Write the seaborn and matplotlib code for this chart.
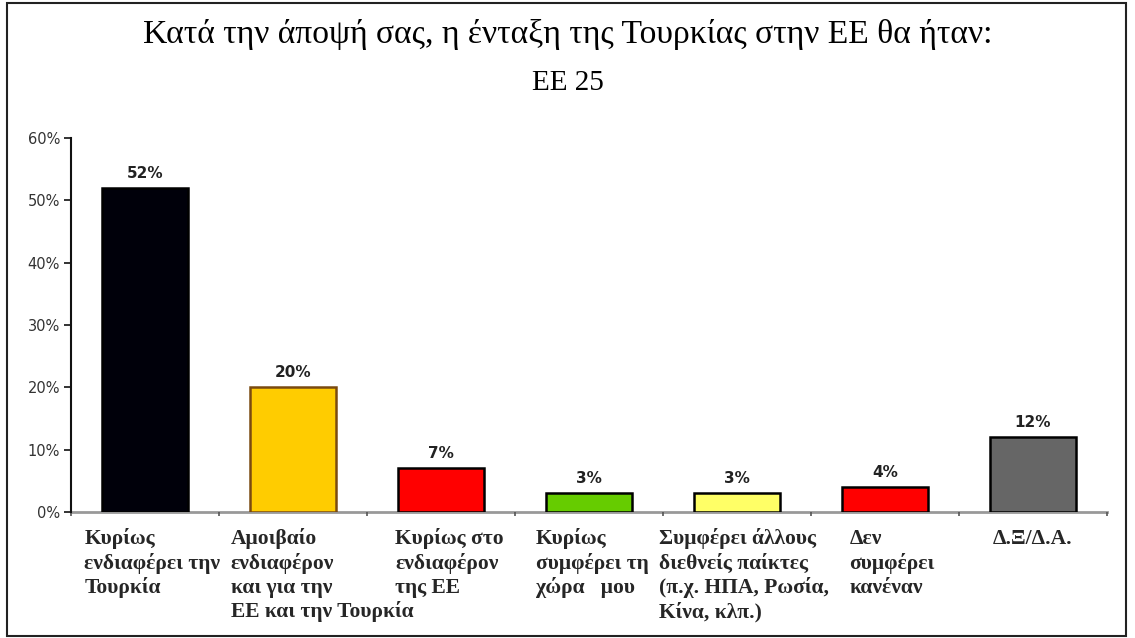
import matplotlib
matplotlib.use("Agg")
import matplotlib.pyplot as plt
import matplotlib.transforms as mtransforms
from matplotlib.patches import Rectangle
import seaborn as sns
import pandas as pd

categories = [
    "Κυρίως\nενδιαφέρει την\nΤουρκία",
    "Αμοιβαίο\nενδιαφέρον\nκαι για την\nΕΕ και την Τουρκία",
    "Κυρίως στο\nενδιαφέρον\nτης ΕΕ",
    "Κυρίως\nσυμφέρει τη\nχώρα   μου",
    "Συμφέρει άλλους\nδιεθνείς παίκτες\n(π.χ. ΗΠΑ, Ρωσία,\nΚίνα, κλπ.)",
    "Δεν\nσυμφέρει\nκανέναν",
    "Δ.Ξ/Δ.Α.",
]
values = [52, 20, 7, 3, 3, 4, 12]
value_labels = ["52%", "20%", "7%", "3%", "3%", "4%", "12%"]
ytick_values = [0, 10, 20, 30, 40, 50, 60]
ytick_labels = ["0%", "10%", "20%", "30%", "40%", "50%", "60%"]
title_line1 = "Κατά την άποψή σας, η ένταξη της Τουρκίας στην ΕΕ θα ήταν:"
title_line2 = "ΕΕ 25"

bar_colors = ["#00000A", "#FFCC00", "#FF0000", "#66CC00", "#FFFF66", "#FF0000", "#666666"]
edge_colors = ["#000000", "#7A4A10", "#000000", "#000000", "#000000", "#000000", "#000000"]
# label horizontal offsets (in category units, from the category's left boundary)
label_offsets = [0.09, 0.08, 0.19, 0.14, -0.03, 0.26, None]

sns.set_theme(style="white")
plt.rcParams["font.family"] = ["DejaVu Sans"]

fig = plt.figure(figsize=(11.35, 6.38), dpi=100)
ax = fig.add_axes([71 / 1135, 1 - 512 / 638, (1107 - 71) / 1135, (512 - 138) / 638])

df = pd.DataFrame({"cat": categories, "val": values})
sns.barplot(data=df, x="cat", y="val", hue="cat", palette=bar_colors,
            legend=False, width=0.58, ax=ax, saturation=1)

for patch, ec in zip(ax.patches, edge_colors):
    patch.set_edgecolor(ec)
    patch.set_linewidth(1.8)

ax.set_xlim(-0.5, len(categories) - 0.5)
ax.set_ylim(0, 60)
ax.set_yticks(ytick_values)
ax.set_yticklabels(ytick_labels, fontsize=10.5, color="#333333")
ax.set_xlabel("")
ax.set_ylabel("")

for sp in ["top", "right"]:
    ax.spines[sp].set_visible(False)
ax.spines["left"].set_color("#111111")
ax.spines["left"].set_linewidth(1.5)
ax.spines["bottom"].set_color("#999999")
ax.spines["bottom"].set_linewidth(2)
ax.spines["bottom"].set_zorder(0.5)

ax.tick_params(axis="y", which="major", left=True, length=5, width=1.2, color="#111111", pad=3)
# category boundary ticks on x axis
ax.set_xticks([i - 0.5 for i in range(len(categories) + 1)])
ax.set_xticklabels([])
ax.tick_params(axis="x", which="major", bottom=True, length=3, width=1.2, color="#555555")

# value labels
for i, (v, t) in enumerate(zip(values, value_labels)):
    ax.annotate(t, (i, v), xytext=(0, 5), textcoords="offset points",
                ha="center", va="bottom", fontsize=11, fontweight="bold", color="#222222")

# category labels, one text per line
trans = mtransforms.blended_transform_factory(ax.transData, fig.transFigure)
label_top = 1 - 544 / 638     # baseline of first line
line_step = 24.5 / 638
for i, (lab, off) in enumerate(zip(categories, label_offsets)):
    for k, line in enumerate(lab.split("\n")):
        y = label_top - k * line_step
        if off is None:
            ax.text(i, y, line, transform=trans, ha="center", va="baseline",
                    fontsize=15.5, fontweight="bold", family="Liberation Serif",
                    clip_on=False)
        else:
            ax.text(i - 0.5 + off, y, line, transform=trans, ha="left", va="baseline",
                    fontsize=15.5, fontweight="bold", family="Liberation Serif",
                    clip_on=False)

# titles
fig.text(0.5, 1 - 43 / 638, title_line1, ha="center", va="baseline",
         fontsize=24.2, family="Liberation Serif", color="#000000")
fig.text(0.5, 1 - 90 / 638, title_line2, ha="center", va="baseline",
         fontsize=21, family="Liberation Serif", color="#000000")

# outer border
fig.patches.append(Rectangle((7 / 1135, 2 / 638), (1126 - 7) / 1135, (635 - 2) / 638,
                             transform=fig.transFigure, fill=False,
                             edgecolor="#222222", linewidth=1.5))

fig.savefig("out.png", dpi=100)
